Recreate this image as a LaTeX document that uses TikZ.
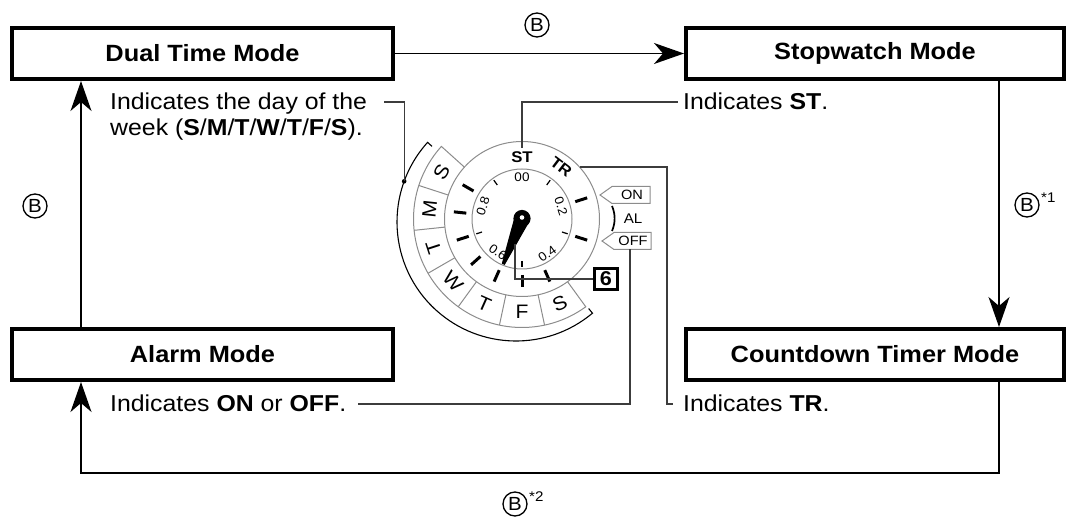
\documentclass[tikz,border=0pt]{standalone}
\usepackage{fontspec}
\setmainfont{Liberation Sans}[FakeStretch=1.08]
\usetikzlibrary{arrows.meta,calc}
\definecolor{dialgray}{RGB}{140,140,140}
\definecolor{leadgray}{RGB}{60,60,60}
\begin{document}
\begin{tikzpicture}[x=1pt,y=1pt,
  modebox/.style={draw, line width=3.6pt, minimum height=51.4pt, inner sep=0pt, font=\fontsize{23.5}{26}\selectfont\bfseries},
  flow/.style={line width=1.5pt, -{Stealth[length=30pt,width=21pt,inset=9pt]}},
  lead/.style={line width=1.1pt, leadgray},
  ann/.style={anchor=base west, inner sep=0pt, font=\fontsize{23}{26}\selectfont},
  circb/.style={circle, draw, line width=1.3pt, minimum size=24pt, inner sep=0pt, font=\fontsize{19}{19}\selectfont},
  supnote/.style={anchor=west, inner sep=0pt, font=\fontsize{14}{14}\selectfont},
  dialline/.style={dialgray, line width=1pt},
  daylbl/.style={inner sep=0pt, font=\fontsize{19.5}{19.5}\selectfont},
  numlbl/.style={inner sep=0pt, font=\fontsize{12.5}{12.5}\selectfont},
  ringlbl/.style={inner sep=0pt, font=\fontsize{15.5}{15.5}\selectfont\bfseries},
  taglbl/.style={inner sep=0pt, font=\fontsize{13.5}{13.5}\selectfont},
]
\useasboundingbox (0,0) rectangle (1069,520);

% mode boxes
\node[modebox, minimum width=381.4pt] (dual)  at (202.5,466.5) {Dual Time Mode};
\node[modebox, minimum width=378.4pt] (stop)  at (875,466.5)   {Stopwatch Mode};
\node[modebox, minimum width=381.4pt] (alarm) at (202.5,165.5) {Alarm Mode};
\node[modebox, minimum width=378.4pt] (count) at (875,165.5)   {Countdown Timer Mode};

% flow connectors
\coordinate (sx) at (999,0);
\coordinate (lx) at (81,0);
\coordinate (by) at (0,47);
\draw[flow] (dual.east) -- (stop.west);
\draw[flow] (stop.south -| sx) -- (count.north -| sx);
\draw[flow] (count.south -| sx) -- (sx |- by) -- (lx |- by) -- (alarm.south -| lx);
\draw[flow] (alarm.north -| lx) -- (dual.south -| lx);

% circled B labels
\node[circb] (btop) at (537,495) {B};
\node[circb] (bleft) at (35,314) {B};
\node[circb] (bright) at (1027,315) {B};
\node[supnote] (n1) at (1041,322) {*1};
\node[circb] (bbot) at (515,16) {B};
\node[supnote] (n2) at (529,23) {*2};

% annotation texts
\node[ann] (tday1) at (110,410) {Indicates the day of the};
\node[ann] (tday2) at (110,384) {week (\textbf{S}/\textbf{M}/\textbf{T}/\textbf{W}/\textbf{T}/\textbf{F}/\textbf{S}).};
\node[ann] (tst) at (683,410) {Indicates \textbf{ST}.};
\node[ann] (tal) at (110,108) {Indicates \textbf{ON} or \textbf{OFF}.};
\node[ann] (ttr) at (683,108) {Indicates \textbf{TR}.};

% dial
\coordinate (O) at (522,301);
\draw[dialline] (O) circle[radius=77.5];
\draw[dialline] (O) circle[radius=50];
% day band
\draw[dialline] ($(O)+(138:77.5)$) -- ($(O)+(138:108.5)$) arc[start angle=138, end angle=306, radius=108.5] -- ($(O)+(306:77.5)$);
\foreach \a in {162,186,...,282} \draw[dialline] ($(O)+(\a:77.5)$) -- ($(O)+(\a:108.5)$);
\foreach \a/\l/\r in {150/S/60, 174/M/84, 198/T/108, 222/W/-48, 246/T/-24, 270/F/0, 294/S/24}
  \node[daylbl, rotate=\r] (day\a) at ($(O)+(\a:93)$) {\l};
% thick ticks
\foreach \a in {150,174,...,294,18,-18} \draw[line width=3pt] ($(O)+(\a:56)$) -- ($(O)+(\a:68.5)$);
% small ticks
\foreach \a in {54,126,198,270,-18} \draw[line width=1.2pt] ($(O)+(\a:42)$) -- ($(O)+(\a:48)$);
% numbers
\node[numlbl] (n00) at ($(O)+(90:42)$) {00};
\node[numlbl, rotate=-72] (n02) at ($(O)+(18:41)$) {0.2};
\node[numlbl, rotate=36] (n04) at ($(O)+(-54:43)$) {0.4};
\node[numlbl, rotate=-36] (n06) at ($(O)+(234:41)$) {0.6};
\node[numlbl, rotate=72] (n08) at ($(O)+(162:41)$) {0.8};
% ring labels
\node[ringlbl] (st) at ($(O)+(90:62)$) {ST};
\node[ringlbl, rotate=-37] (tr) at ($(O)+(53:65)$) {TR};
% hand
\fill ($(O)+(157.5:7.8)$) -- ($(O)+(247.5:49)+(157.5:1.6)$) -- ($(O)+(247.5:49)+(337.5:1.6)$) -- ($(O)+(337.5:7.8)$) -- cycle;
\fill ($(O)+(0,0.5)$) circle[radius=8.6];
\fill[white] ($(O)+(0,1.5)$) circle[radius=2.3];

% outer bracket arc with dot
\coordinate (C2) at (516,298);
\draw[line width=1.1pt] ($(C2)+(138:113)$) -- ($(C2)+(138:119)$) arc[start angle=138, end angle=310, radius=119] -- ($(C2)+(310:113)$);
\coordinate (dot) at ($(C2)+(160:119)$);
\fill (dot) circle[radius=2.3];

% ON / OFF tags
\draw[dialline] (600,325) -- (612,333.5) -- (650,333.5) -- (650,316.5) -- (612,316.5) -- cycle;
\node[taglbl] (on) at (632,325) {ON};
\draw[dialline] (602,279) -- (614,287.5) -- (651,287.5) -- (651,270.5) -- (614,270.5) -- cycle;
\node[taglbl] (off) at (633,279) {OFF};
\node[taglbl, font=\fontsize{14}{14}\selectfont] (al) at (633,301) {AL};
\draw[line width=1.7pt] (612,314) .. controls (615.5,306) and (615.5,297) .. (612,289);

% 6 box
\node[draw, line width=2.2pt, minimum width=23pt, minimum height=21pt, inner sep=0pt, font=\fontsize{20}{20}\selectfont\bfseries] (six) at (606,241) {6};

% leaders
\coordinate (dl) at (384,418);
\draw[lead] (dl) -- (dot |- dl) -- (dot);
\coordinate (stt) at (522,372);
\coordinate (stl) at (678,418);
\draw[lead] (stt) -- (stt |- stl) -- (stl);
\coordinate (trt) at (580,353);
\coordinate (trc) at (667,353);
\coordinate (trb) at (673,116);
\draw[lead] (trt) -- (trc) -- (trc |- trb) -- (trb);
\coordinate (offb) at (630,270.5);
\coordinate (offl) at (358,116);
\draw[lead] (offb) -- (offb |- offl) -- (offl);
\coordinate (h6) at (515,276);
\draw[lead] (h6) -- (h6 |- six.west) -- (six.west);
\end{tikzpicture}
\end{document}
